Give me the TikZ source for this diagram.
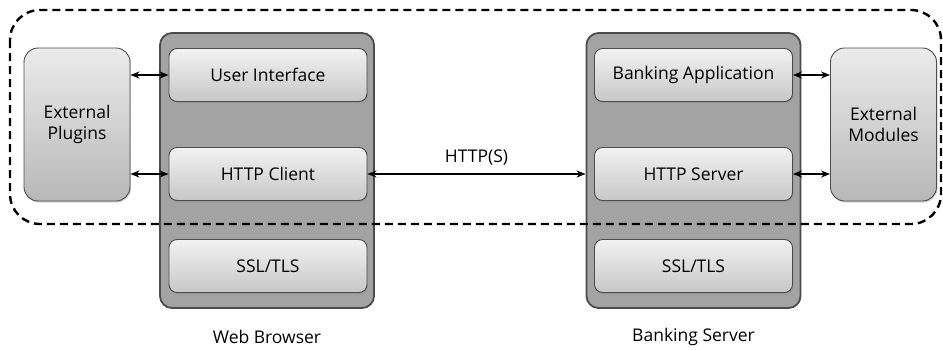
\documentclass[tikz,border=0pt]{standalone}
\usepackage{fontspec}
\setmainfont{Open Sans}
\usetikzlibrary{arrows.meta,shadows}

\tikzset{
  host/.style={draw=black!70, line width=1.8pt, fill=black!36, rounded corners=12pt,
    minimum width=214pt, minimum height=275pt, inner sep=0pt},
  layer/.style={draw=black!70, line width=0.9pt, rounded corners=8pt,
    top color=black!5, bottom color=black!22, minimum width=198pt, minimum height=53pt,
    inner sep=0pt, drop shadow={shadow xshift=1pt, shadow yshift=-1.5pt, opacity=.35}},
  extbox/.style={layer, minimum width=106pt, minimum height=153pt, align=center,
    top color=black!8, bottom color=black!28, rounded corners=14pt},
  link/.style={{Stealth[length=9pt,width=7pt]}-{Stealth[length=9pt,width=7pt]}, line width=1.5pt},
  caption/.style={inner sep=0pt}
}

\begin{document}
\begin{tikzpicture}[x=1pt,y=1pt,yscale=-1,font=\fontsize{17.5}{21}\selectfont]
\useasboundingbox (0,0) rectangle (943,349);

% client side
\node[host] (browser) at (267,170.5) {};
\node[layer] (ui) at (268,75) {User Interface};
\node[layer] (client) at (268,174) {HTTP Client};
\node[layer] (bssl) at (268,266) {SSL/TLS};
\node[extbox] (plugins) at (77,124.5) {External\\Plugins};

% server side
\node[host] (bank) at (693.5,170.5) {};
\node[layer] (app) at (693.5,75) {Banking Application};
\node[layer] (server) at (693.5,174) {HTTP Server};
\node[layer] (sssl) at (693.5,266) {SSL/TLS};
\node[extbox] (modules) at (883.5,124.5) {External\\Modules};

\node[caption] (browsername) at (267,337) {Web Browser};
\node[caption] (bankname) at (693.5,337) {Banking Server};

% connections
\draw[link] (plugins.east |- ui.west) -- (ui.west);
\draw[link] (plugins.east |- client.west) -- (client.west);
\draw[link] (app.east) -- (modules.west |- app.east);
\draw[link] (server.east) -- (modules.west |- server.east);
\draw[link] (client.east) -- node[above=8pt, caption] (proto) {HTTP(S)} (bank.west |- client.east);

% trust boundary
\draw[line width=2.4pt, dash pattern=on 8pt off 5pt, rounded corners=30pt]
  (10,10) rectangle (941,224);
\end{tikzpicture}
\end{document}
